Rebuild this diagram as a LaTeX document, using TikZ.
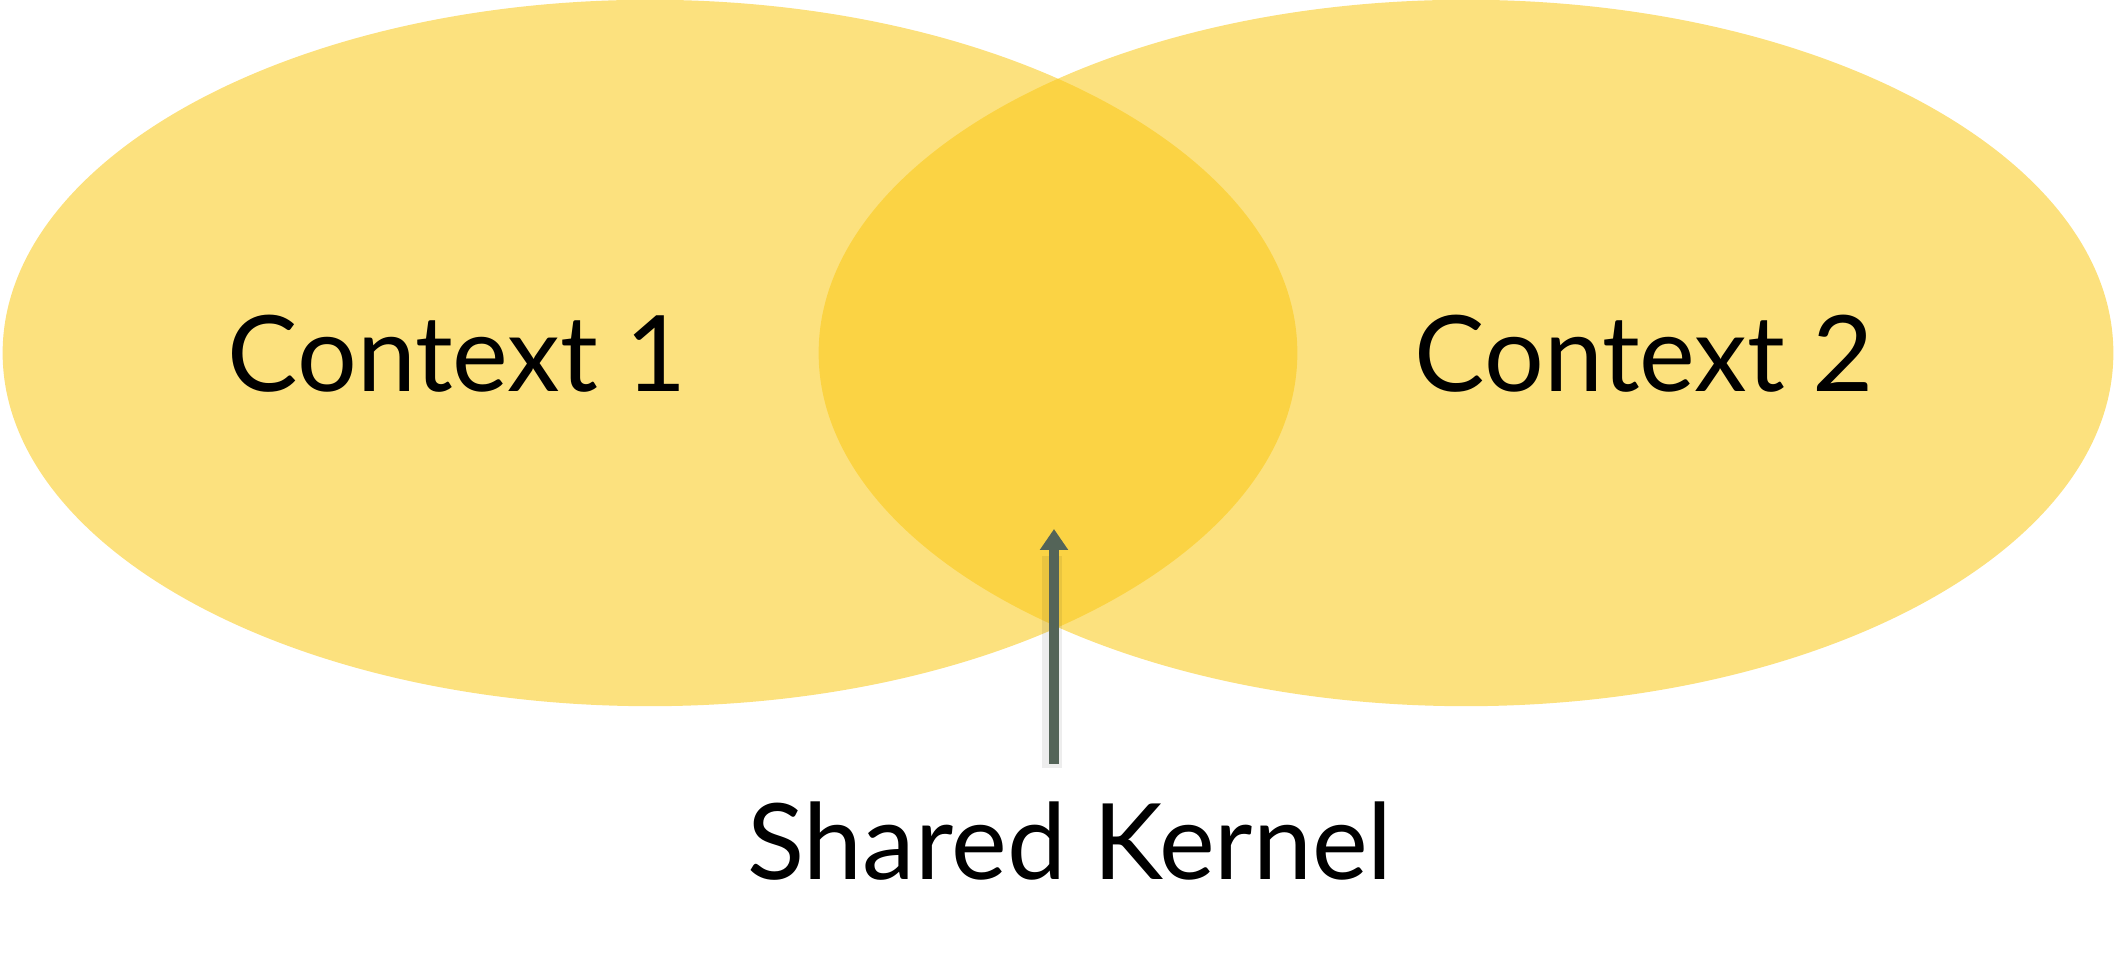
\documentclass[tikz,border=0pt]{standalone}
\usepackage{fontspec}
\setmainfont{Lato}
\usepackage{tikz}
\usetikzlibrary{arrows.meta}
\definecolor{ctxYellow}{RGB}{250, 200, 20}
\definecolor{arrowGreen}{RGB}{84, 100, 88}

\begin{document}
\begin{tikzpicture}[x=0.01cm, y=-0.01cm,
    ctxfill/.style={fill=ctxYellow, fill opacity=0.55},
    ctxlabel/.style={anchor=base, inner sep=0pt, font=\fontsize{30}{36}\selectfont},
    kernelarrow/.style={arrowGreen, line width=0.1cm, -{Triangle[width=0.27cm, length=0.21cm]}},
    arrowshade/.style={black, draw opacity=0.07, line width=0.2cm}]
        \useasboundingbox (0,0) rectangle (2117,962);
        \fill[ctxfill] (650,353) ellipse [x radius=6.47cm, y radius=3.53cm];
        \fill[ctxfill] (1466,353) ellipse [x radius=6.47cm, y radius=3.53cm];
        \node[ctxlabel] (ctx1) at (457,392) {Context 1};
        \node[ctxlabel] (ctx2) at (1644,392) {Context 2};
        \node[ctxlabel] (kernel) at (1070,880) {Shared Kernel};
        \coordinate (tail) at (1054,764);
        \coordinate (tip) at (1054,529);
        \draw[arrowshade] ([shift={(-2,4)}]tail) -- ([shift={(-2,4)}]tip |- 0,552);
        \draw[kernelarrow] (tail) -- (tip);
      \end{tikzpicture}
\end{document}
